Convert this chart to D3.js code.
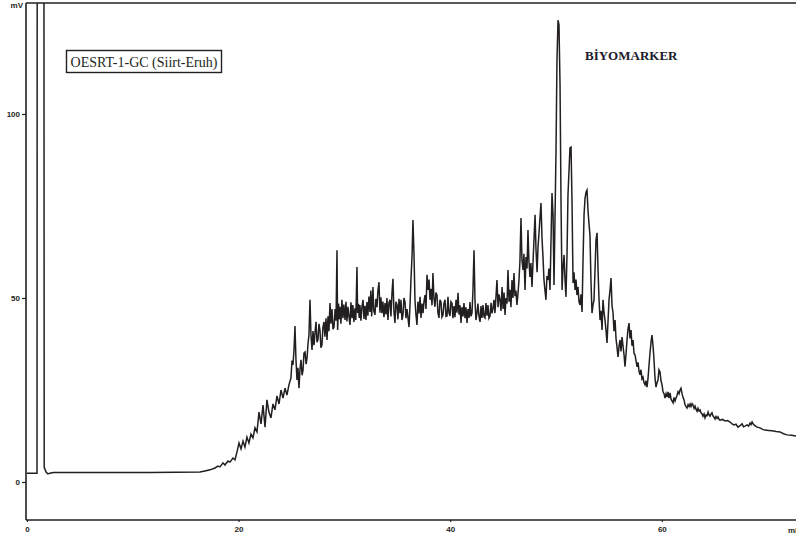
<!DOCTYPE html>
<html>
<head>
<meta charset="utf-8">
<script src="https://cdn.jsdelivr.net/npm/d3@7"></script>
<style>
  html, body { margin: 0; padding: 0; background: #fff; }
  svg { display: block; }
</style>
</head>
<body>
<svg id="chart" width="796" height="542"></svg>
<script>
// Chromatogram trace, [retention time (min), detector signal (mV)]
const baselineTrace = [
  [0, 2.4], [0.95, 2.4], [1.00, 400], [1.56, 400], [1.63, 4.0], [1.80, 2.7],
  [1.98, 2.2], [2.17, 2.4], [2.5, 2.6], [3.12, 2.6], [6.90, 2.6], [11.63, 2.6],
  [16.35, 2.7], [16.82, 3.0]
];
const riseTrace = [
  [17.30, 3.3], [17.77, 3.8], [18.05, 4.3], [18.24, 4.1], [18.53, 5.2], [18.71, 4.6],
  [19.00, 5.7], [19.19, 5.4], [19.47, 6.5], [19.66, 6.0], [19.85, 8.2], [20.04, 10.6],
  [20.23, 9.0], [20.42, 11.1], [20.60, 9.5], [20.79, 12.2], [20.98, 10.6], [21.17, 13.0],
  [21.36, 12.0], [21.55, 14.7], [21.74, 13.6], [21.93, 19.0], [22.12, 15.8], [22.31, 20.9],
  [22.50, 14.9], [22.68, 22.3], [22.87, 19.0], [23.06, 17.4], [23.25, 21.2], [23.44, 19.6],
  [23.63, 23.4], [23.82, 21.2], [24.01, 25.0], [24.20, 22.8], [24.39, 25.5], [24.57, 23.6],
  [24.76, 26.4], [24.95, 28.3], [25.05, 33.0], [25.14, 31.8], [25.24, 36.0], [25.33, 42.4],
  [25.42, 33.5], [25.52, 27.7], [25.61, 31.0], [25.71, 25.5], [25.80, 30.5], [25.90, 33.2],
  [26.00, 29.0], [26.09, 30.4], [26.18, 35.0], [26.28, 35.3], [26.38, 32.0], [26.47, 33.7],
  [26.56, 37.5], [26.65, 39.9], [26.75, 49.5], [26.84, 40.0], [26.94, 35.9], [27.03, 41.0],
  [27.13, 37.2], [27.22, 40.5], [27.32, 43.5], [27.41, 38.0], [27.50, 38.6], [27.60, 43.0],
  [27.69, 41.3], [27.78, 36.5], [27.88, 37.2], [27.97, 42.0], [28.07, 43.5], [28.16, 39.5],
  [28.26, 44.5], [28.36, 38.6], [28.45, 45.0], [28.54, 41.0], [28.64, 48.6], [28.73, 43.0],
  [28.83, 47.0], [28.92, 41.5], [29.02, 42.1]
];
const plateauTrace = [
  [29.12, 47.0], [29.21, 43.8], [29.30, 63.0], [29.36, 41.3], [29.45, 48.5], [29.52, 44.2],
  [29.58, 47.6], [29.67, 43.0], [29.77, 49.5], [29.86, 44.5], [29.95, 48.2], [30.06, 44.0],
  [30.15, 49.0], [30.24, 43.6], [30.34, 47.6], [30.43, 45.0], [30.53, 42.7], [30.62, 48.8],
  [30.72, 44.5], [30.80, 48.1], [30.90, 43.5], [31.00, 47.2], [31.08, 44.0], [31.19, 58.4],
  [31.25, 45.9], [31.33, 48.4], [31.40, 44.6], [31.47, 48.1], [31.56, 43.8], [31.66, 47.6],
  [31.76, 49.5], [31.85, 44.3], [31.95, 47.9], [32.04, 44.0], [32.13, 48.9], [32.22, 45.2],
  [32.32, 50.4], [32.42, 46.2], [32.50, 52.0], [32.58, 45.0], [32.70, 53.0], [32.78, 46.5],
  [32.89, 45.4], [32.98, 49.8], [33.08, 47.5], [33.17, 52.0], [33.27, 54.3], [33.36, 46.0],
  [33.45, 50.2], [33.55, 45.9], [33.64, 49.0], [33.74, 44.8], [33.84, 48.6], [33.93, 45.5],
  [34.02, 50.0], [34.12, 44.0], [34.21, 48.7], [34.31, 49.5], [34.40, 45.0], [34.50, 51.5],
  [34.59, 55.2], [34.68, 46.5], [34.78, 43.2], [34.87, 49.0], [34.97, 48.1], [35.06, 44.2],
  [35.16, 49.8], [35.26, 45.9], [35.35, 49.5], [35.44, 44.0], [35.54, 45.4], [35.63, 50.0],
  [35.73, 48.9], [35.82, 44.5], [35.92, 47.0], [36.01, 44.6], [36.11, 42.1], [36.20, 48.0],
  [36.29, 54.9], [36.40, 62.0], [36.48, 71.2], [36.58, 61.7], [36.67, 49.5], [36.76, 45.5],
  [36.86, 42.7], [36.95, 49.0], [37.05, 45.8], [37.15, 50.3], [37.24, 44.6], [37.34, 48.5],
  [37.43, 45.9], [37.52, 49.0], [37.62, 50.8], [37.71, 47.0], [37.81, 56.3], [37.90, 52.2],
  [38.00, 55.0], [38.09, 49.5], [38.18, 52.5], [38.28, 48.0], [38.37, 56.8], [38.46, 50.0],
  [38.56, 47.6], [38.65, 51.5], [38.75, 50.8], [38.84, 46.0], [38.94, 44.6], [39.03, 49.5],
  [39.13, 48.9], [39.22, 44.8], [39.32, 45.4], [39.41, 48.5], [39.51, 49.5], [39.60, 45.0],
  [39.70, 45.1], [39.79, 50.3], [39.88, 46.0], [39.98, 45.1], [40.07, 49.0], [40.17, 48.6],
  [40.26, 44.5], [40.36, 47.8], [40.45, 44.8], [40.55, 49.5], [40.64, 46.0], [40.74, 51.4],
  [40.83, 45.5], [40.93, 48.0], [41.02, 43.2], [41.11, 47.5], [41.21, 45.0], [41.30, 48.6],
  [41.40, 44.5], [41.49, 47.5], [41.59, 43.2], [41.68, 47.0], [41.78, 44.6], [41.87, 48.9],
  [41.96, 45.0], [42.06, 45.9], [42.15, 52.0], [42.25, 63.0], [42.34, 49.5], [42.43, 44.0],
  [42.53, 45.9], [42.62, 48.5], [42.72, 45.0], [42.82, 43.5], [42.91, 47.8], [43.00, 44.6],
  [43.10, 48.1], [43.19, 45.0], [43.29, 44.6], [43.38, 48.6], [43.48, 45.2], [43.57, 48.1],
  [43.66, 44.5], [43.76, 45.1], [43.86, 48.7], [43.95, 45.8], [44.05, 47.3], [44.14, 49.5],
  [44.23, 45.9], [44.33, 50.5]
];
const biomarkerTrace = [
  [44.42, 54.9], [44.52, 47.5], [44.61, 51.0], [44.71, 49.5], [44.80, 46.5], [44.90, 53.0],
  [45.00, 47.0], [45.09, 51.5], [45.18, 45.4], [45.27, 50.0], [45.37, 48.5], [45.46, 57.6],
  [45.56, 49.0], [45.65, 52.2], [45.74, 47.5], [45.84, 54.9], [45.93, 50.0], [46.03, 56.8],
  [46.12, 50.5], [46.21, 52.0], [46.31, 48.1], [46.40, 51.0], [46.50, 54.9], [46.59, 60.0],
  [46.69, 71.7], [46.78, 60.5], [46.88, 57.6], [46.97, 62.0], [47.07, 52.2], [47.16, 61.1],
  [47.26, 58.0], [47.35, 68.5], [47.44, 60.0], [47.54, 55.7], [47.63, 59.5], [47.73, 53.0],
  [47.83, 60.0], [47.92, 66.0], [48.02, 72.6], [48.11, 63.0], [48.21, 57.0], [48.30, 63.9],
  [48.40, 68.0], [48.49, 72.0], [48.58, 75.8], [48.68, 66.0], [48.77, 61.1], [48.86, 55.0],
  [48.96, 52.0], [49.05, 49.5], [49.14, 56.0], [49.24, 54.9], [49.33, 58.0], [49.43, 52.2],
  [49.53, 66.0], [49.62, 78.5], [49.72, 72.6], [49.81, 53.5], [50.00, 90.2], [50.09, 114.7],
  [50.19, 125.5], [50.28, 124.2], [50.38, 107.9], [50.47, 76.6], [50.57, 52.2], [50.66, 58.0],
  [50.76, 61.7], [50.85, 55.0], [50.94, 50.3], [51.04, 62.0], [51.13, 78.0], [51.32, 90.8],
  [51.42, 91.0], [51.51, 76.6], [51.61, 54.1], [51.70, 57.0], [51.80, 52.2], [51.89, 55.0],
  [51.98, 50.8], [52.08, 53.0], [52.17, 49.0], [52.27, 48.1], [52.36, 51.0], [52.46, 46.2],
  [52.55, 60.0], [52.65, 72.6], [52.74, 77.0], [52.84, 78.8], [52.93, 79.3], [53.02, 73.9],
  [53.12, 70.0], [53.21, 67.1], [53.30, 55.0], [53.40, 45.9], [53.49, 48.0], [53.59, 49.5],
  [53.69, 58.0], [53.78, 65.8], [53.88, 67.7], [53.97, 57.6], [54.06, 50.0], [54.16, 44.0],
  [54.25, 46.5], [54.35, 41.3], [54.44, 49.5], [54.54, 46.0], [54.63, 44.0], [54.73, 41.0],
  [54.82, 37.8], [54.92, 44.0], [55.01, 49.5], [55.10, 52.0], [55.20, 55.4], [55.29, 48.0],
  [55.39, 45.9], [55.48, 41.0], [55.58, 44.0], [55.67, 39.0], [55.77, 36.5], [55.86, 34.0],
  [55.96, 37.0], [56.05, 38.6], [56.14, 35.5], [56.24, 39.4], [56.33, 37.0], [56.43, 34.5],
  [56.52, 31.3], [56.62, 35.0], [56.71, 38.6], [56.80, 41.5], [56.90, 43.2], [56.99, 39.0],
  [57.09, 41.3], [57.18, 37.0], [57.28, 38.6], [57.37, 35.0], [57.47, 34.5], [57.56, 33.0],
  [57.66, 31.3], [57.75, 32.5], [57.85, 30.0]
];
const tailTrace = [
  [57.94, 29.1], [58.03, 30.5], [58.12, 28.0], [58.22, 28.5], [58.31, 27.0], [58.41, 26.4],
  [58.50, 27.5], [58.60, 25.8], [58.69, 28.0], [58.79, 31.8], [58.88, 35.0], [58.98, 38.0],
  [59.07, 39.9], [59.17, 37.0], [59.26, 33.2], [59.36, 28.0], [59.45, 25.8], [59.55, 27.0],
  [59.64, 27.7], [59.73, 30.5], [59.83, 29.9], [59.92, 27.5], [60.02, 26.4], [60.11, 24.5],
  [60.21, 24.0], [60.30, 22.8], [60.40, 24.0], [60.49, 23.1], [60.59, 24.5], [60.68, 22.8],
  [60.78, 24.2], [60.87, 22.5], [60.97, 22.0], [61.06, 21.5], [61.15, 23.0], [61.25, 22.0],
  [61.34, 22.8], [61.44, 23.5], [61.53, 24.5], [61.63, 24.0], [61.72, 25.0], [61.81, 25.5],
  [61.91, 24.0], [62.00, 23.0], [62.10, 22.3], [62.19, 21.0], [62.29, 20.5], [62.38, 20.1],
  [62.48, 21.0], [62.57, 20.5], [62.67, 21.2], [62.76, 20.5], [62.86, 21.3], [62.95, 20.9],
  [63.05, 20.0], [63.14, 20.6], [63.23, 19.8], [63.33, 19.2], [63.42, 20.0], [63.51, 19.3],
  [63.61, 19.6], [63.70, 18.8], [63.80, 18.5], [63.89, 17.9], [63.99, 18.5], [64.08, 17.4],
  [64.18, 18.2], [64.27, 18.0], [64.37, 19.0], [64.46, 18.2], [64.56, 17.9], [64.65, 18.5],
  [64.74, 18.8], [64.84, 17.9], [64.93, 17.6], [65.03, 17.1], [65.12, 17.8], [65.22, 17.3],
  [65.31, 17.7], [65.41, 17.0], [65.50, 16.8], [65.74, 17.0], [65.97, 16.6], [66.21, 16.7],
  [66.45, 16.3], [66.64, 15.8], [66.82, 15.5], [67.01, 15.7], [67.20, 14.9], [67.39, 15.3],
  [67.58, 15.8], [67.72, 15.0], [67.86, 15.2], [68.05, 15.5], [68.20, 15.2], [68.34, 16.0],
  [68.43, 15.6], [68.53, 16.3], [68.62, 15.8], [68.71, 15.5], [69.00, 14.9], [69.28, 14.7],
  [69.52, 14.3], [69.75, 14.1], [70.09, 14.0], [70.42, 13.9], [70.80, 13.7], [71.17, 13.6],
  [71.50, 13.1], [71.83, 12.8], [72.25, 12.7], [72.68, 12.5]
];

const xTickValues = [0, 20, 40, 60];
const yTickValues = [0, 50, 100];
const xUnitLabel = "min";
const yUnitLabel = "mV";
const sampleLabel = "OESRT-1-GC (Siirt-Eruh)";
const sectionLabel = "BİYOMARKER";

const ink = "#231f20";
const svg = d3.select("#chart");

const plot = { left: 26, right: 796, top: 3, bottom: 520 };

const x = d3.scaleLinear().domain([-0.09, 72.68]).range([plot.left, plot.right]);
const y = d3.scaleLinear().domain([-10.33, 130.16]).range([plot.bottom, plot.top]);

svg.append("defs").append("clipPath").attr("id", "plot-clip")
  .append("rect")
  .attr("x", plot.left).attr("y", plot.top)
  .attr("width", plot.right - plot.left).attr("height", plot.bottom - plot.top);

// Trace
const trace = [].concat(baselineTrace, riseTrace, plateauTrace, biomarkerTrace, tailTrace);
const line = d3.line().x(d => x(d[0])).y(d => y(d[1]));
svg.append("path")
  .datum(trace)
  .attr("clip-path", "url(#plot-clip)")
  .attr("fill", "none")
  .attr("stroke", ink)
  .attr("stroke-width", 1.5)
  .attr("stroke-linejoin", "miter")
  .attr("d", line);

// Frame lines: left axis, top rule, bottom axis
svg.append("line")
  .attr("x1", plot.left).attr("x2", plot.left)
  .attr("y1", plot.top).attr("y2", plot.bottom)
  .attr("stroke", ink).attr("stroke-width", 1.6);
svg.append("line")
  .attr("x1", plot.left).attr("x2", plot.right)
  .attr("y1", plot.top).attr("y2", plot.top)
  .attr("stroke", ink).attr("stroke-width", 1.6);
svg.append("line")
  .attr("x1", plot.left).attr("x2", plot.right)
  .attr("y1", plot.bottom).attr("y2", plot.bottom)
  .attr("stroke", ink).attr("stroke-width", 1.6);

const tickFont = "'Liberation Sans', Arial, sans-serif";

// Y axis
const yAxis = svg.append("g")
  .attr("transform", `translate(${plot.left},0)`)
  .call(d3.axisLeft(y).tickValues(yTickValues).tickSize(4).tickPadding(2).tickFormat(d3.format("d")));
yAxis.select(".domain").remove();
yAxis.selectAll("line").attr("stroke", ink).attr("stroke-width", 1.2);
yAxis.selectAll("text")
  .attr("fill", ink)
  .style("font-family", tickFont)
  .style("font-size", "8px")
  .style("font-weight", "bold");

svg.append("text")
  .attr("x", 23).attr("y", 8)
  .attr("text-anchor", "end")
  .attr("fill", ink)
  .style("font-family", tickFont)
  .style("font-size", "8px")
  .style("font-weight", "bold")
  .text(yUnitLabel);

// X axis
const xAxis = svg.append("g")
  .attr("transform", `translate(0,${plot.bottom})`)
  .call(d3.axisBottom(x).tickValues(xTickValues).tickSize(2).tickPadding(4).tickFormat(d3.format("d")));
xAxis.select(".domain").remove();
xAxis.selectAll("line").attr("stroke", ink).attr("stroke-width", 1.2);
xAxis.selectAll("text")
  .attr("fill", ink)
  .style("font-family", tickFont)
  .style("font-size", "8px")
  .style("font-weight", "bold");

// Time unit sits at the right end of the axis, running off the edge
svg.append("text")
  .attr("x", 788).attr("y", 533)
  .attr("fill", ink)
  .style("font-family", tickFont)
  .style("font-size", "8px")
  .style("font-weight", "bold")
  .text(xUnitLabel);

// Annotations
const serif = "'Liberation Serif', 'Times New Roman', serif";
svg.append("rect")
  .attr("x", 66.5).attr("y", 50.5)
  .attr("width", 155).attr("height", 22)
  .attr("fill", "#fff")
  .attr("stroke", ink).attr("stroke-width", 1.4);
svg.append("text")
  .attr("x", 144).attr("y", 66.5)
  .attr("text-anchor", "middle")
  .attr("fill", ink)
  .style("font-family", serif)
  .style("font-size", "14px")
  .text(sampleLabel);

svg.append("text")
  .attr("x", 585).attr("y", 60)
  .attr("fill", "#1a1a2a")
  .style("font-family", serif)
  .style("font-size", "13px")
  .style("font-weight", "bold")
  .text(sectionLabel);
</script>
</body>
</html>
